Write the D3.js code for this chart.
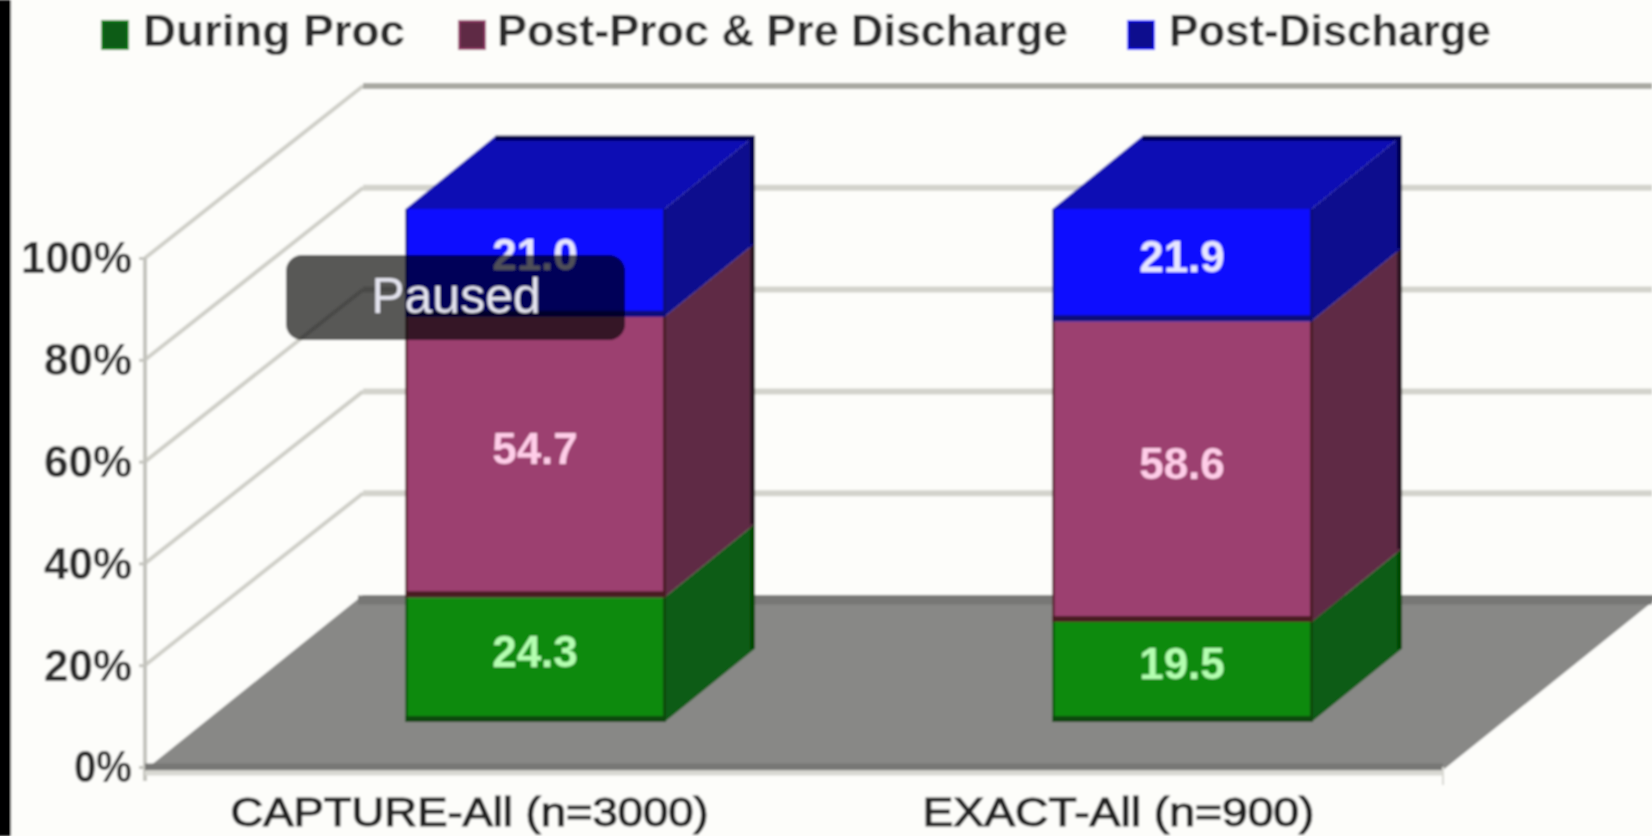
<!DOCTYPE html>
<html>
<head>
<meta charset="utf-8">
<style>
  html, body { margin: 0; padding: 0; background: #fdfdfa; overflow: hidden; }
  text { font-family: "Liberation Sans", Arial, sans-serif; }
</style>
<script src="https://cdn.jsdelivr.net/npm/d3@7"></script>
</head>
<body>
<div id="chart"></div>
<script>
// data
const categories = ['CAPTURE-All (n=3000)', 'EXACT-All (n=900)'];
const seriesNames = ['During Proc', 'Post-Proc & Pre Discharge', 'Post-Discharge'];
const duringProc = [24.3, 19.5];
const postProc = [54.7, 58.6];
const postDischarge = [21.0, 21.9];
const yTicks = [0, 20, 40, 60, 80, 100];

const config = {
  width: 1652,
  height: 836,
  axisX: 145,
  floorRight: 1443,
  frontBottom: 767,
  frontTop: 258,
  depthX: 218,
  depthY: 172,
  barBottom: 722,
  barTop: 209,
  barWidth: 259,
  barFirst: 535,
  barLast: 1182,
  barDepthX: 90,
  barDepthY: 73
};

const colors = {
  'During Proc': { front: '#0a8a10', top: '#0a7a0e', side: '#0b5c12', edge: '#074a0a', back: '#064806' },
  'Post-Proc & Pre Discharge': { front: '#9c3f70', top: '#7d3058', side: '#5f2b45', edge: '#4a1f24', back: '#2a1224' },
  'Post-Discharge': { front: '#0c0cff', top: '#0c0cb4', side: '#10108e', edge: '#0a0a78', back: '#00004e' }
};
const labelColors = { 'During Proc': '#b4ffb0', 'Post-Proc & Pre Discharge': '#ffcde8', 'Post-Discharge': '#e6e6ff' };

// stack the three series per category
const rows = categories.map((c, i) => ({
  category: c,
  'During Proc': duringProc[i],
  'Post-Proc & Pre Discharge': postProc[i],
  'Post-Discharge': postDischarge[i]
}));
const stacked = d3.stack().keys(seriesNames)(rows);

const svg = d3.select('#chart').append('svg')
  .attr('width', config.width)
  .attr('height', config.height)
  .style('display', 'block');

svg.append('defs').append('filter')
  .attr('id', 'soft')
  .attr('x', 0).attr('y', 0).attr('width', 1).attr('height', 1)
  .attr('filterUnits', 'objectBoundingBox')
  .append('feGaussianBlur')
  .attr('stdDeviation', 1);

const root = svg.append('g').attr('filter', 'url(#soft)');
root.append('rect').attr('width', config.width).attr('height', config.height).attr('fill', '#fdfdfa');

// scales
const xScale = d3.scaleBand().domain(categories).range([config.axisX, config.floorRight]);
const barCenter = d3.scalePoint().domain(categories).range([config.barFirst, config.barLast]);
const yScale = d3.scaleLinear().domain([0, 100]).range([config.frontBottom, config.frontTop]);
const barScale = d3.scaleLinear().domain([0, 100]).range([config.barBottom, config.barTop]);

drawWall(root);
drawFloor(root);
drawAxes(root);
drawBars(root);
drawLegend(root);
drawPaused(root);

// black strip on the left of the video frame
root.append('rect').attr('x', -4).attr('width', 15).attr('height', config.height).attr('fill', '#000');

function drawWall (g) {
  const wall = g.append('g').attr('class', 'wall');
  yTicks.filter(d => d > 0).forEach(d => {
    const y = yScale(d);
    const stroke = d === 100 ? '#a9a9a2' : '#d3d3cc';
    wall.append('line')
      .attr('x1', config.axisX).attr('y1', y)
      .attr('x2', config.axisX + config.depthX).attr('y2', y - config.depthY)
      .attr('stroke', '#cfcfc8').attr('stroke-width', 4);
    wall.append('line')
      .attr('x1', config.axisX + config.depthX).attr('y1', y - config.depthY)
      .attr('x2', config.width).attr('y2', y - config.depthY)
      .attr('stroke', stroke).attr('stroke-width', 6);
  });
  wall.append('line')
    .attr('x1', config.axisX).attr('y1', yScale(100))
    .attr('x2', config.axisX).attr('y2', yScale(0) + 14)
    .attr('stroke', '#c4c4be').attr('stroke-width', 4);
}

function drawFloor (g) {
  const y0 = yScale(0);
  const floor = g.append('g').attr('class', 'floor');
  floor.append('polygon')
    .attr('points', [
      [config.axisX, y0 + 3],
      [config.axisX + config.depthX, y0 - config.depthY],
      [config.floorRight + config.depthX, y0 - config.depthY],
      [config.floorRight, y0 + 3]
    ].join(' '))
    .attr('fill', '#888886');
  // darker back and front bands of the floor
  floor.append('line')
    .attr('x1', config.axisX + config.depthX - 5).attr('y1', y0 - config.depthY + 5)
    .attr('x2', config.width).attr('y2', y0 - config.depthY + 5)
    .attr('stroke', '#777775').attr('stroke-width', 9);
  floor.append('line')
    .attr('x1', config.axisX).attr('y1', y0)
    .attr('x2', config.floorRight).attr('y2', y0)
    .attr('stroke', '#777775').attr('stroke-width', 7);
  floor.append('line')
    .attr('x1', config.axisX).attr('y1', y0 + 6)
    .attr('x2', config.floorRight).attr('y2', y0 + 6)
    .attr('stroke', '#d8d8d2').attr('stroke-width', 5);
  floor.append('line')
    .attr('x1', config.floorRight).attr('y1', y0)
    .attr('x2', config.floorRight).attr('y2', y0 + 18)
    .attr('stroke', '#d8d8d2').attr('stroke-width', 2);
}

function drawAxes (g) {
  const yAxis = g.append('g')
    .attr('class', 'y axis')
    .attr('transform', `translate(${config.axisX},0)`)
    .call(d3.axisLeft(yScale).tickValues(yTicks).tickFormat(d => d + '%').tickSize(6).tickPadding(7));
  yAxis.select('.domain').remove();
  yAxis.selectAll('line').attr('stroke', '#c4c4be').attr('stroke-width', 3);
  yAxis.selectAll('text')
    .attr('font-size', 45)
    .attr('font-weight', 'bold')
    .attr('fill', '#2c2c2c')
    .attr('dy', '0.33em')
    .attr('textLength', d => d === 100 ? 111 : d === 0 ? 58 : 88)
    .attr('lengthAdjust', 'spacingAndGlyphs');

  const xAxis = g.append('g')
    .attr('class', 'x axis')
    .attr('transform', `translate(0,${config.frontBottom})`)
    .call(d3.axisBottom(xScale).tickSize(0).tickPadding(31));
  xAxis.select('.domain').remove();
  xAxis.selectAll('text')
    .attr('font-size', 40)
    .attr('fill', '#222')
    .attr('stroke', '#222')
    .attr('stroke-width', 1.2)
    .attr('textLength', (d, i) => [478, 392][i])
    .attr('lengthAdjust', 'spacingAndGlyphs');
}

function drawBars (g) {
  const bars = g.append('g').attr('class', 'bars');

  stacked.forEach(layer => {
    const c = colors[layer.key];
    const seg = bars.append('g').attr('class', 'series');

    layer.forEach((d, i) => {
      const x0 = barCenter(categories[i]) - config.barWidth / 2;
      const x1 = x0 + config.barWidth;
      const yLow = barScale(d[0]);
      const yHigh = barScale(d[1]);
      const dx = config.barDepthX;
      const dy = config.barDepthY;

      // right hand side of the block
      seg.append('polygon')
        .attr('points', [[x1, yLow], [x1 + dx, yLow - dy], [x1 + dx, yHigh - dy], [x1, yHigh]].join(' '))
        .attr('fill', c.side);
      seg.append('line')
        .attr('x1', x1 + dx - 2).attr('y1', yLow - dy)
        .attr('x2', x1 + dx - 2).attr('y2', yHigh - dy)
        .attr('stroke', c.back).attr('stroke-width', 5);

      // only the last series shows its top
      if (layer.key === 'Post-Discharge') {
        seg.append('polygon')
          .attr('points', [[x0, yHigh], [x0 + dx, yHigh - dy], [x1 + dx, yHigh - dy], [x1, yHigh]].join(' '))
          .attr('fill', c.top);
        seg.append('line')
          .attr('x1', x0 + dx).attr('y1', yHigh - dy + 2)
          .attr('x2', x1 + dx).attr('y2', yHigh - dy + 2)
          .attr('stroke', c.back).attr('stroke-width', 5);
      }

      seg.append('rect')
        .attr('x', x0).attr('y', yHigh)
        .attr('width', config.barWidth).attr('height', yLow - yHigh)
        .attr('fill', c.front);
      // dark edges of the front face
      seg.append('line')
        .attr('x1', x0 + 1).attr('y1', yHigh).attr('x2', x0 + 1).attr('y2', yLow)
        .attr('stroke', c.edge).attr('stroke-width', 2);
      seg.append('line')
        .attr('x1', x1).attr('y1', yHigh).attr('x2', x1).attr('y2', yLow)
        .attr('stroke', c.edge).attr('stroke-width', 3);
      seg.append('line')
        .attr('x1', x0).attr('y1', yLow - 3).attr('x2', x1).attr('y2', yLow - 3)
        .attr('stroke', c.edge).attr('stroke-width', 6);

      // value label, sits a little above the middle of the block
      seg.append('text')
        .attr('x', (x0 + x1) / 2)
        .attr('y', (yLow + yHigh) / 2 + 7)
        .attr('text-anchor', 'middle')
        .attr('font-size', 44)
        .attr('font-weight', 'bold')
        .attr('fill', labelColors[layer.key])
        .text((d[1] - d[0]).toFixed(1));
    });
  });
}

function drawLegend (g) {
  const swatchX = [102, 459, 1128];
  const textX = [143, 497, 1169];
  const textW = [262, 571, 322];
  const legend = g.append('g').attr('class', 'legend');
  seriesNames.forEach((name, i) => {
    legend.append('rect')
      .attr('x', swatchX[i]).attr('y', 21)
      .attr('width', 26).attr('height', 28)
      .attr('fill', colors[name].side)
      .attr('stroke', colors[name].front).attr('stroke-width', 2);
    legend.append('text')
      .attr('x', textX[i]).attr('y', 46)
      .attr('font-size', 44)
      .attr('font-weight', 'bold')
      .attr('fill', '#2c2c2c')
      .attr('textLength', textW[i])
      .attr('lengthAdjust', 'spacingAndGlyphs')
      .text(name);
  });
}

function drawPaused (g) {
  const box = g.append('g').attr('class', 'paused');
  box.append('rect')
    .attr('x', 286).attr('y', 255)
    .attr('width', 339).attr('height', 85)
    .attr('rx', 16)
    .attr('fill', '#000').attr('opacity', 0.65);
  box.append('text')
    .attr('x', 456).attr('y', 313)
    .attr('text-anchor', 'middle')
    .attr('font-size', 50)
    .attr('fill', '#e4e4ee')
    .text('Paused');
}
</script>
</body>
</html>
